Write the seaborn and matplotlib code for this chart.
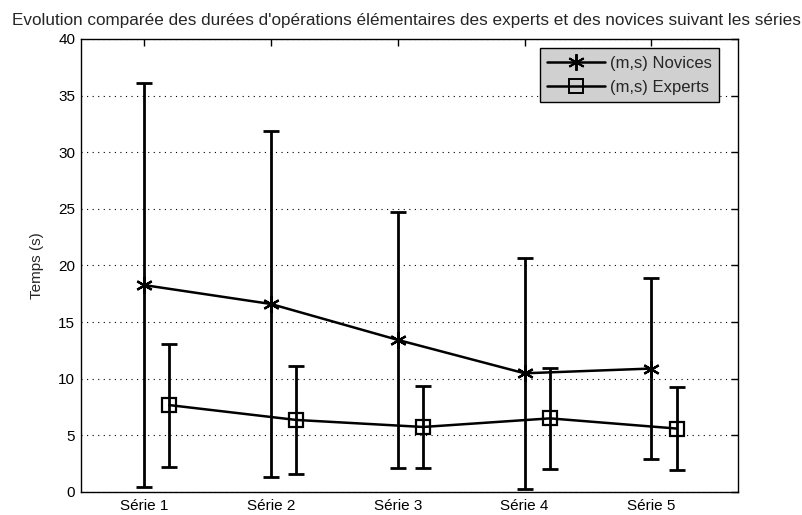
import numpy as np
import pandas as pd
import matplotlib
matplotlib.use("Agg")
import matplotlib.pyplot as plt
import seaborn as sns
from matplotlib.lines import Line2D

series = ["Série 1", "Série 2", "Série 3", "Série 4", "Série 5"]
novices_mean = [18.27, 16.6, 13.43, 10.48, 10.9]
novices_std = [17.82, 15.28, 11.28, 10.22, 7.97]
experts_mean = [7.67, 6.36, 5.74, 6.5, 5.6]
experts_std = [5.43, 4.8, 3.62, 4.48, 3.7]
experts_shift = 0.2

sns.set_style("white")
plt.rcParams["font.family"] = ["Liberation Sans", "DejaVu Sans"]

fig = plt.figure(figsize=(8.02, 5.15), dpi=100)
ax = fig.add_axes([0.1006, 0.0447, 0.8192, 0.8796])

pos = np.arange(1, len(series) + 1)
asterisk = (6, 2, 0)

novices = pd.DataFrame({"x": pos, "y": novices_mean})
experts = pd.DataFrame({"x": pos + experts_shift, "y": experts_mean})

sns.lineplot(data=novices, x="x", y="y", color="black", linewidth=1.8,
             marker=asterisk, markersize=12, markeredgecolor="black",
             markeredgewidth=1.6, ax=ax, sort=False)
sns.lineplot(data=experts, x="x", y="y", color="black", linewidth=1.8,
             marker="s", markersize=10.5, markerfacecolor="none",
             markeredgecolor="black", markeredgewidth=1.6, ax=ax, sort=False)

ax.errorbar(pos, novices_mean, yerr=novices_std, fmt="none", ecolor="black",
            elinewidth=2, capsize=6, capthick=2)
ax.errorbar(pos + experts_shift, experts_mean, yerr=experts_std, fmt="none",
            ecolor="black", elinewidth=2, capsize=6, capthick=2)

ax.set_xlim(0.5, 5.68)
ax.set_ylim(0, 40)
ax.set_xticks(pos)
ax.set_xticklabels(series)
ax.set_yticks(np.arange(0, 41, 5))
ax.set_xlabel("")
ax.set_ylabel("Temps (s)", fontsize=11, labelpad=10)
fig.suptitle("Evolution comparée des durées d'opérations élémentaires des experts et des novices suivant les séries",
             fontsize=12.3, x=0.5065, y=0.974, va="top")

ax.yaxis.grid(True, linestyle=(0, (1, 4)), color="black", linewidth=0.8)
ax.xaxis.grid(False)
ax.tick_params(direction="in", length=5, width=1, top=True, right=True,
               labelsize=11, colors="black")
ax.tick_params(axis="x", pad=5)
ax.tick_params(axis="y", pad=4)
for s in ax.spines.values():
    s.set_color("black")
    s.set_linewidth(1)

handles = [
    Line2D([], [], color="black", linewidth=1.8, marker=asterisk, markersize=12,
           markeredgewidth=1.4),
    Line2D([], [], color="black", linewidth=1.8, marker="s", markersize=10.5,
           markeredgewidth=1.4, markerfacecolor="none"),
]
leg = ax.legend(handles, ["(m,s) Novices", "(m,s) Experts"], loc="upper right",
                bbox_to_anchor=(0.9715, 0.980), borderaxespad=0,
                fontsize=12, fancybox=False, framealpha=1, handlelength=3.5,
                handletextpad=0.25, labelspacing=0.55, borderpad=0.45)
leg.get_frame().set_facecolor("#d0d0d0")
leg.get_frame().set_edgecolor("black")
leg.get_frame().set_linewidth(1)

fig.savefig("out.png", dpi=100)
